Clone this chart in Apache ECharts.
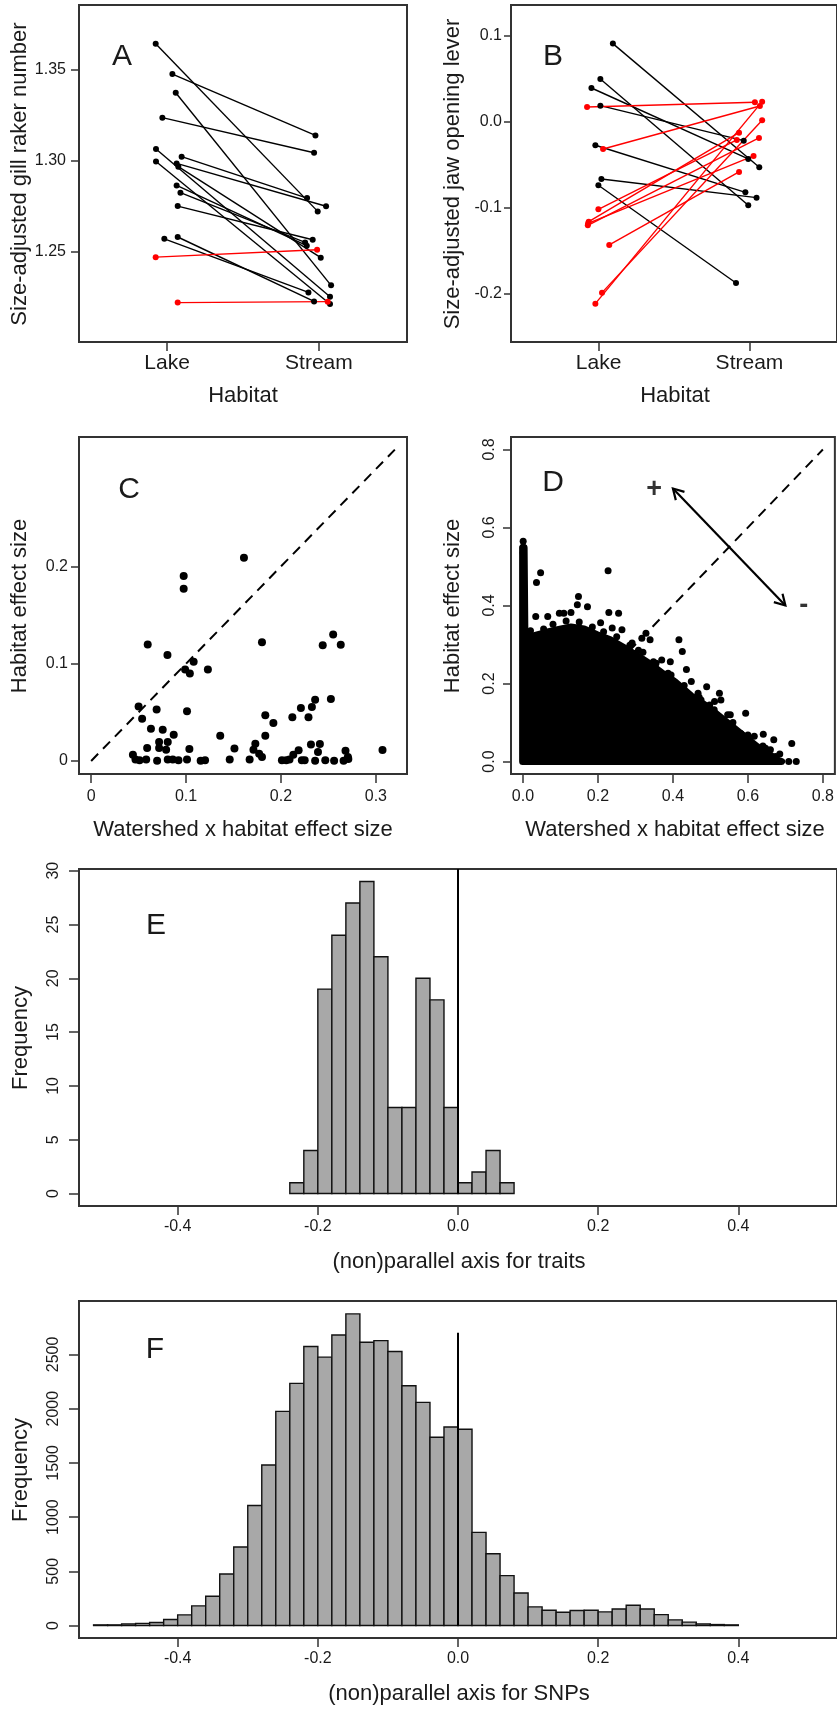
<!DOCTYPE html>
<html><head><meta charset="utf-8">
<script src="https://cdn.jsdelivr.net/npm/echarts@6/dist/echarts.min.js"></script>
<style>html,body{margin:0;padding:0;background:#fff}#c{width:837px;height:1709px}</style>
</head><body><div id="c"></div>
<script>
// ---------- Panel A: size-adjusted gill raker number ----------
const habitatTicks = [1, 2];
const habitatLabels = ['Lake', 'Stream'];
const gillTicks = [1.25, 1.30, 1.35];
const gillTickLabels = ['1.25', '1.30', '1.35'];
const gillLakeX = [0.925,1.035,1.057,0.969,0.927,0.927,1.096,1.063,1.074,1.063,1.088,1.070,0.982,1.070,0.925,1.070];
const gillLakeY = [1.3645,1.3478,1.3375,1.3238,1.3065,1.2997,1.3023,1.2986,1.2968,1.2865,1.2825,1.2751,1.2571,1.2581,1.247,1.222];
const gillStreamX = [1.992,1.977,2.080,1.968,2.073,2.073,1.922,2.047,2.012,1.920,1.909,1.959,1.931,1.968,1.988,2.058];
const gillStreamY = [1.2722,1.314,1.2315,1.3045,1.2252,1.2212,1.2795,1.275,1.2467,1.2533,1.2551,1.2566,1.2276,1.2226,1.2511,1.2225];
const gillGroup = [0,0,0,0,0,0,0,0,0,0,0,0,0,0,1,1];

// ---------- Panel B: size-adjusted jaw opening lever ----------
const jawTicks = [-0.2, -0.1, 0, 0.1];
const jawTickLabels = ['-0.2', '-0.1', '0.0', '0.1'];
const jawLakeX = [1.095,1.012,0.953,1.012,0.979,1.019,0.999, 0.924,1.030,0.999,0.935,0.929,0.931,1.071,1.023,0.979];
const jawLakeY = [0.0911,0.050,0.0395,0.019,-0.0271,-0.0663,-0.0736, 0.0174,-0.0314,-0.1016,-0.1159,-0.1202,-0.118,-0.143,-0.1984,-0.2112];
const jawStreamX = [2.065,1.992,1.992,1.962,1.973,2.047,1.911, 2.036,2.069,1.916,1.931,2.063,2.027,1.931,2.084,2.084];
const jawStreamY = [-0.0527,-0.0969,-0.043,-0.0217,-0.0818,-0.088,-0.1872, 0.0229,0.0186,-0.0209,-0.0124,-0.0186,-0.0395,-0.0581,0.0019,0.0236];
const jawGroup = [0,0,0,0,0,0,0, 1,1,1,1,1,1,1,1,1];

// ---------- Panel C: traits, habitat vs watershed x habitat effect size ----------
const cXTicks = [0, 0.1, 0.2, 0.3];
const cXTickLabels = ['0', '0.1', '0.2', '0.3'];
const cYTicks = [0, 0.1, 0.2];
const cYTickLabels = ['0', '0.1', '0.2'];
const cWatershed = [0.161,0.0975,0.0975,0.0596,0.0804,0.180,0.255,0.244,0.263,0.108,0.099,0.104,0.123,0.050,0.069,0.101,0.0537,0.2526,0.236,0.2326,0.221,0.229,0.212,0.1835,0.192,0.1835,0.063,0.0754,0.087,0.136,0.0716,0.0807,0.059,0.0716,0.079,0.1035,0.151,0.173,0.171,0.177,0.180,0.2316,0.241,0.239,0.2186,0.213,0.268,0.2705,0.307,0.044,0.0467,0.051,0.058,0.0695,0.0807,0.086,0.092,0.101,0.1154,0.120,0.146,0.167,0.201,0.2056,0.209,0.222,0.225,0.236,0.2467,0.256,0.266,0.271];
const cHabitat = [0.209,0.190,0.177,0.1196,0.109,0.122,0.130,0.119,0.1195,0.102,0.094,0.090,0.094,0.056,0.053,0.051,0.0435,0.0637,0.063,0.0555,0.0545,0.045,0.045,0.047,0.039,0.026,0.0332,0.032,0.027,0.026,0.0195,0.0195,0.0134,0.0134,0.0116,0.0123,0.0127,0.0178,0.0116,0.0075,0.004,0.0168,0.0175,0.0092,0.011,0.0065,0.0106,0.004,0.0113,0.0065,0.0014,0.0007,0.0014,0.0003,0.0014,0.0014,0.0007,0.0014,0.0003,0.0007,0.0014,0.0014,0.0007,0.0007,0.0014,0.0007,0.0007,0.0003,0.0007,0.0003,0.0003,0.002];
const cDiagonal = [[0, 0], [0.32, 0.32]];

// ---------- Panel D: SNPs ----------
const dTicks = [0, 0.2, 0.4, 0.6, 0.8];
const dTickLabels = ['0.0', '0.2', '0.4', '0.6', '0.8'];
// outline of the dense point cloud
const dCloudX = [-0.001,-0.001,0.003,0.005,0.013,0.040,0.066,0.092,0.128,0.163,0.198,0.233,0.269,0.304,0.339,0.374,0.405,0.449,0.493,0.537,0.581,0.625,0.651,0.678,0.690];
const dCloudY = [0,0.548,0.548,0.330,0.318,0.325,0.332,0.338,0.345,0.340,0.325,0.312,0.292,0.272,0.250,0.225,0.205,0.168,0.140,0.106,0.072,0.038,0.022,0.004,0];
// individual points around the edge of the cloud
const dWatershed = [0.0005,0.227,0.047,0.036,0.148,0.034,0.066,0.229,0.255,0.172,0.416,0.425,0.393,0.436,0.449,0.490,0.524,0.594,0.641,0.669,0.717,0.709,0.729,0.678,0.685,0.553,0.328,0.145,0.097,0.109,0.128,0.207,0.238,0.264,0.317,0.339,0.291,0.308,0.348,0.361,0.511,0.528,0.498,0.546,0.617,0.647,0.674,0.581,0.467,0.475,0.387,0.352,0.370,0.0005,0.0005,
  0.020,0.055,0.080,0.115,0.150,0.185,0.215,0.250,0.285,0.320,0.355,0.395,0.430,0.470,0.510,0.560,0.600,0.640,0.660];
const dHabitat = [0.565,0.489,0.484,0.459,0.423,0.372,0.372,0.382,0.380,0.397,0.312,0.282,0.256,0.236,0.205,0.192,0.175,0.124,0.070,0.056,0.046,0.0,0.0,0.004,0.019,0.120,0.329,0.402,0.380,0.380,0.382,0.356,0.342,0.338,0.316,0.312,0.304,0.285,0.256,0.231,0.154,0.158,0.145,0.120,0.065,0.034,0.013,0.072,0.175,0.158,0.226,0.243,0.260,0.550,0.535,
  0.335,0.340,0.352,0.360,0.358,0.345,0.333,0.320,0.298,0.280,0.252,0.222,0.195,0.165,0.133,0.100,0.068,0.040,0.030];
const dDiagonal = [[0, 0], [0.8, 0.8]];
const dArrow = [0.40, 0.70, 0.70, 0.40];
const dSigns = [['+', 0.35, 0.698], ['-', 0.749, 0.40]];

// ---------- Panel E: (non)parallel axis for traits ----------
const binWidth = 0.02;
const efXTicks = [-0.4, -0.2, 0, 0.2, 0.4];
const efXTickLabels = ['-0.4', '-0.2', '0.0', '0.2', '0.4'];
const eYTicks = [0, 5, 10, 15, 20, 25, 30];
const eBinStart = [-0.24,-0.22,-0.20,-0.18,-0.16,-0.14,-0.12,-0.10,-0.08,-0.06,-0.04,-0.02,0.00,0.02,0.04,0.06];
const eCounts = [1,4,19,24,27,29,22,8,8,20,18,8,1,2,4,1];
const eZeroLine = [[0, 0], [0, 30.16]];

// ---------- Panel F: (non)parallel axis for SNPs ----------
const fYTicks = [0, 500, 1000, 1500, 2000, 2500];
const fBinStart = [-0.52,-0.50,-0.48,-0.46,-0.44,-0.42,-0.40,-0.38,-0.36,-0.34,-0.32,-0.30,-0.28,-0.26,-0.24,-0.22,-0.20,-0.18,-0.16,-0.14,-0.12,-0.10,-0.08,-0.06,-0.04,-0.02,0.00,0.02,0.04,0.06,0.08,0.10,0.12,0.14,0.16,0.18,0.20,0.22,0.24,0.26,0.28,0.30,0.32,0.34,0.36,0.38];
const fCounts = [6,6,15,20,28,55,98,181,270,475,724,1107,1481,1975,2233,2573,2475,2680,2874,2613,2628,2527,2211,2058,1736,1831,1810,859,662,460,300,172,141,123,138,141,126,153,187,153,101,52,31,15,9,6];
const fZeroLine = [[0, 0], [0, 2700]];

// ---------- drawing ----------
const FONT = "'Liberation Sans', Arial, Helvetica, sans-serif";
const INK = '#1a1a1a';
const RED = '#ff0000';

function mkGrid(left, top, width, height) {
  return { left, top, width, height, show: true, borderColor: '#333', borderWidth: 2, backgroundColor: 'transparent', containLabel: false };
}
function mkAxis(gi, min, max, ticks, labels, o) {
  return {
    type: 'value', gridIndex: gi, min, max,
    axisLine: { show: false, onZero: false }, splitLine: { show: false },
    axisTick: { show: true, customValues: ticks, length: o.tick, lineStyle: { color: '#333', width: 1.5 } },
    axisLabel: {
      show: true, customValues: ticks, fontSize: o.fs, margin: o.margin, rotate: o.rotate || 0,
      color: INK, fontFamily: FONT,
      formatter: (v) => { const i = ticks.findIndex(t => Math.abs(t - v) < 1e-9); return i >= 0 ? labels[i] : ''; }
    }
  };
}
function pairLines(ai, lx, ly, sx, sy, grp) {
  return {
    type: 'lines', coordinateSystem: 'cartesian2d', xAxisIndex: ai, yAxisIndex: ai, z: 3,
    lineStyle: { width: 1.4, opacity: 1 },
    data: lx.map((x, i) => ({ coords: [[x, ly[i]], [sx[i], sy[i]]], lineStyle: { color: grp[i] ? RED : '#000' } }))
  };
}
function pairPoints(ai, lx, ly, sx, sy, grp) {
  const d = [];
  lx.forEach((x, i) => {
    const c = grp[i] ? RED : '#000';
    d.push({ value: [x, ly[i]], itemStyle: { color: c, opacity: 1 } });
    d.push({ value: [sx[i], sy[i]], itemStyle: { color: c, opacity: 1 } });
  });
  return { type: 'scatter', xAxisIndex: ai, yAxisIndex: ai, symbolSize: 6, z: 4, itemStyle: { opacity: 1 }, data: d };
}
function histSeries(ai, starts, counts) {
  return {
    type: 'custom', xAxisIndex: ai, yAxisIndex: ai, z: 2,
    data: starts.map((s, i) => [s, s + binWidth, counts[i]]),
    encode: { x: [0, 1], y: 2 },
    renderItem: (p, api) => {
      const a = api.coord([api.value(0), api.value(2)]);
      const b = api.coord([api.value(1), 0]);
      return { type: 'rect', shape: { x: a[0], y: a[1], width: b[0] - a[0], height: b[1] - a[1] },
        style: { fill: '#a8a8a8', stroke: '#111', lineWidth: 1.4 } };
    }
  };
}
function segLine(ai, pts, width, dashed, z) {
  return { type: 'line', xAxisIndex: ai, yAxisIndex: ai, data: pts, symbol: 'none', z: z || 2,
    lineStyle: { color: '#000', width, type: dashed ? [10, 7] : 'solid' } };
}
function txt(text, x, y, size, rot) {
  return { type: 'text', x, y, rotation: rot ? Math.PI / 2 : 0,
    style: { text, fontSize: size, fontFamily: FONT, fill: INK, textAlign: 'center', textVerticalAlign: 'middle' } };
}

const option = {
  animation: false,
  backgroundColor: '#fff',
  textStyle: { fontFamily: FONT },
  grid: [
    mkGrid(79, 5, 328, 337),
    mkGrid(511, 5, 328, 337),
    mkGrid(79, 437, 328, 337),
    mkGrid(511, 437, 328, 337),
    mkGrid(79, 869, 760, 337),
    mkGrid(79, 1301, 760, 337)
  ],
  xAxis: [
    mkAxis(0, 0.42, 2.58, habitatTicks, habitatLabels, { tick: 9, fs: 21, margin: 11 }),
    mkAxis(1, 0.42, 2.58, habitatTicks, habitatLabels, { tick: 9, fs: 21, margin: 11 }),
    mkAxis(2, -0.0128, 0.3328, cXTicks, cXTickLabels, { tick: 9, fs: 16, margin: 15 }),
    mkAxis(3, -0.032, 0.832, dTicks, dTickLabels, { tick: 9, fs: 16, margin: 15 }),
    mkAxis(4, -0.5408, 0.5408, efXTicks, efXTickLabels, { tick: 9, fs: 16, margin: 13 }),
    mkAxis(5, -0.5408, 0.5408, efXTicks, efXTickLabels, { tick: 9, fs: 16, margin: 13 })
  ],
  yAxis: [
    mkAxis(0, 1.2003, 1.3858, gillTicks, gillTickLabels, { tick: 8, fs: 16, margin: 13 }),
    mkAxis(1, -0.2558, 0.136, jawTicks, jawTickLabels, { tick: 7, fs: 16, margin: 9 }),
    mkAxis(2, -0.0134, 0.333, cYTicks, cYTickLabels, { tick: 8, fs: 16, margin: 11 }),
    mkAxis(3, -0.032, 0.832, dTicks, dTickLabels, { tick: 8, fs: 16, margin: 13, rotate: 90 }),
    mkAxis(4, -1.16, 30.16, eYTicks, eYTicks.map(String), { tick: 10, fs: 16, margin: 17, rotate: 90 }),
    mkAxis(5, -115, 2993, fYTicks, fYTicks.map(String), { tick: 10, fs: 16, margin: 17, rotate: 90 })
  ],
  series: [
    pairLines(0, gillLakeX, gillLakeY, gillStreamX, gillStreamY, gillGroup),
    pairPoints(0, gillLakeX, gillLakeY, gillStreamX, gillStreamY, gillGroup),
    pairLines(1, jawLakeX, jawLakeY, jawStreamX, jawStreamY, jawGroup),
    pairPoints(1, jawLakeX, jawLakeY, jawStreamX, jawStreamY, jawGroup),
    segLine(2, cDiagonal, 2, true),
    { type: 'scatter', xAxisIndex: 2, yAxisIndex: 2, symbolSize: 8, z: 4, itemStyle: { color: '#000', opacity: 1 },
      data: cWatershed.map((x, i) => [x, cHabitat[i]]) },
    segLine(3, dDiagonal, 2, true, 1),
    { type: 'custom', xAxisIndex: 3, yAxisIndex: 3, z: 3, data: [[0, 0]],
      renderItem: (p, api) => ({ type: 'polygon',
        shape: { points: dCloudX.map((x, i) => api.coord([x, dCloudY[i]])) },
        style: { fill: '#000', stroke: '#000', lineWidth: 7, lineJoin: 'round' } }) },
    { type: 'scatter', xAxisIndex: 3, yAxisIndex: 3, symbolSize: 7, z: 4, itemStyle: { color: '#000', opacity: 1 },
      data: dWatershed.map((x, i) => [x, dHabitat[i]]) },
    { type: 'custom', xAxisIndex: 3, yAxisIndex: 3, z: 5, data: [dArrow],
      renderItem: (p, api) => {
        const a = api.coord([api.value(0), api.value(1)]);
        const b = api.coord([api.value(2), api.value(3)]);
        const ang = Math.atan2(b[1] - a[1], b[0] - a[0]);
        const L = 12, h = Math.PI / 6;
        const head = (t, g) => [[t[0] - L * Math.cos(g - h), t[1] - L * Math.sin(g - h)], t,
                                [t[0] - L * Math.cos(g + h), t[1] - L * Math.sin(g + h)]];
        const st = { stroke: '#000', lineWidth: 2.2, fill: null };
        return { type: 'group', children: [
          { type: 'line', shape: { x1: a[0], y1: a[1], x2: b[0], y2: b[1] }, style: st },
          { type: 'polyline', shape: { points: head(b, ang) }, style: st },
          { type: 'polyline', shape: { points: head(a, ang + Math.PI) }, style: st }
        ] };
      } },
    { type: 'scatter', xAxisIndex: 3, yAxisIndex: 3, symbolSize: 1, z: 5,
      itemStyle: { color: 'transparent' },
      label: { show: true, position: 'inside', formatter: (p) => p.data[2], fontSize: 27, fontWeight: 'bold', color: '#000', fontFamily: FONT },
      data: dSigns.map(s => [s[1], s[2], s[0]]) },
    histSeries(4, eBinStart, eCounts),
    segLine(4, eZeroLine, 2, false, 3),
    histSeries(5, fBinStart, fCounts),
    segLine(5, fZeroLine, 2, false, 3)
  ],
  graphic: [
    txt('A', 122, 57, 30), txt('B', 553, 57, 30), txt('C', 129, 490, 30),
    txt('D', 553, 483, 30), txt('E', 156, 926, 30), txt('F', 155, 1350, 30),
    txt('Size-adjusted gill raker number', 20, 174, 22, true),
    txt('Size-adjusted jaw opening lever', 453, 174, 22, true),
    txt('Habitat effect size', 20, 606, 22, true),
    txt('Habitat effect size', 453, 606, 22, true),
    txt('Frequency', 21, 1038, 22, true),
    txt('Frequency', 21, 1470, 22, true),
    txt('Habitat', 243, 396, 22), txt('Habitat', 675, 396, 22),
    txt('Watershed x habitat effect size', 243, 830, 22),
    txt('Watershed x habitat effect size', 675, 830, 22),
    txt('(non)parallel axis for traits', 459, 1262, 22),
    txt('(non)parallel axis for SNPs', 459, 1694, 22)
  ]
};
const chart = echarts.init(document.getElementById('c'), null, { renderer: 'canvas', width: 837, height: 1709 });
chart.setOption(option);
</script></body></html>
